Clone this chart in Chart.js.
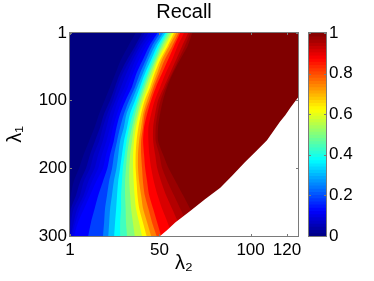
<!DOCTYPE html>
<html>
<head>
<meta charset="utf-8">
<title>Recall</title>
<script src="https://cdn.jsdelivr.net/npm/chart.js@4"></script>
<style>
    html, body { margin: 0; padding: 0; background: #fff; }
    canvas { position: absolute; left: 0; top: 0; }
</style>
</head>
<body>
<canvas id="mapChart" width="374" height="281"></canvas>
<canvas id="barChart" width="374" height="281"></canvas>
<script>
const fontName = "'Liberation Sans', Arial, sans-serif";

const xTicks = [1, 50, 100, 120];
const yTicks = [1, 100, 200, 300];
const barTicks = [0, 0.2, 0.4, 0.6, 0.8, 1];

const rows = [1, 20, 40, 60, 80, 100, 120, 140, 160, 180, 200, 220, 240, 260, 280, 300];

// lambda2 position of each recall level, one value per row
const lvl000 = [1, 1, 1, 1, 1, 1, 1, 1, 1, 1, 1, 1, 1, 1, 1, 1];
const lvl020 = [37, 33, 29, 26, 23, 20, 17, 14.5, 11.5, 8.5, 6, 3, 1.5, 1, 1, 1];
const lvl050 = [40.5, 36.7, 32.3, 28.5, 25.7, 23, 19.7, 17.5, 14.7, 12, 9.8, 6.5, 4.3, 1.5, 1, 1];
const lvl070 = [42, 38, 34, 30, 27, 24.5, 21.5, 19, 17, 14, 12, 8.5, 6.5, 3, 1.5, 1];
const lvl090 = [44, 39.5, 35.5, 32, 29, 26, 23, 21, 19, 16.5, 14.5, 11, 8.5, 5, 3, 1.5];
const lvl105 = [46, 41, 37, 34, 31, 27.5, 25, 23, 21, 18.5, 16.5, 13, 10, 6.5, 4, 2];
const lvl125 = [47.7, 42.7, 38.9, 35.6, 32.8, 29.5, 26.8, 24.6, 23, 20.8, 19.1, 15.3, 12, 8.7, 5.4, 3.2];
const lvl188 = [49, 44.5, 41, 37.5, 35, 31.5, 28.5, 26.5, 25, 23, 21.5, 19, 16.5, 14.5, 12.5, 11];
const lvl250 = [50.4, 46, 42.7, 39.4, 36.7, 33.4, 30.6, 28.5, 26.8, 25.2, 24.1, 22.4, 21.3, 20.2, 19.7, 19.1];
const lvl313 = [52, 47.5, 44, 41, 38, 35, 32, 30.5, 28.5, 27.5, 26.5, 25, 24, 23, 22.5, 22];
const lvl375 = [53.2, 48.8, 45.5, 42.2, 39.4, 36.7, 33.9, 32.3, 30.6, 29.5, 28.5, 27.4, 26.8, 26.3, 25.7, 25.2];
const lvl438 = [54, 50, 46.5, 43.5, 40.5, 38, 35.5, 33.5, 32, 31, 30, 29.5, 29, 29, 28.5, 28.5];
const lvl500 = [54.8, 51, 47.7, 44.4, 41.6, 38.9, 36.7, 35, 33.4, 32.3, 31.7, 31.2, 31.2, 31.5, 31.7, 32.3];
const lvl563 = [56, 52, 48.5, 45.5, 42.5, 40, 38, 36, 35, 34, 33.5, 33.5, 34, 34.5, 35.5, 36.5];
const lvl625 = [57, 53.2, 49.3, 46.6, 43.8, 41.1, 38.9, 37.2, 36.1, 35.6, 35.6, 35.9, 36.4, 37.2, 38.9, 40.5];
const lvl688 = [58, 54.5, 50.5, 47.5, 45, 42, 40, 38.5, 37.5, 37, 37, 37.5, 38, 39, 41, 43];
const lvl750 = [59.2, 55.4, 51.5, 48.8, 46, 43.3, 41.1, 40, 38.9, 38.3, 38.3, 38.9, 40, 41.1, 43.3, 45.5];
const lvl813 = [60.5, 57, 53, 50, 47, 44.5, 42, 41, 40, 40, 40.5, 41, 42, 44, 46, 48.5];
const lvl875 = [61.4, 58.1, 54.8, 51.5, 48.2, 45.5, 43.3, 41.6, 41.1, 41.6, 42.2, 43.3, 44.4, 46.6, 48.8, 51];
const lvl912 = [63.5, 60, 57, 53.5, 50.5, 47.5, 45.5, 44, 44, 44.5, 45.5, 47, 49, 51.5, 54.5, 57];
const lvl950 = [65.8, 62.5, 59.2, 55.9, 52.6, 49.3, 47.7, 46.6, 46.6, 47.7, 48.8, 51, 53.7, 57, 60.3, 63.6];
const lvl975 = [67, 64, 60.5, 57, 53.5, 50.7, 49, 48, 48, 50, 51.5, 54.5, 58, 61.5, 65, 69];
const lvl100 = [68, 65.5, 61.4, 57.5, 54.3, 52, 50.4, 49.3, 49.3, 52, 55, 59, 63, 66.9, 70.7, 75];

// edge of the white (undefined) corner
const edgeRows = [1, 96, 111, 122, 132, 159, 175, 191, 211, 229, 246, 263, 280, 291, 300];
const edgeX = [126, 126, 121.8, 119, 116, 109, 103, 97, 90, 83.4, 75, 66.9, 58.7, 54.3, 50.4];

const levels = [0, 0.02, 0.05, 0.07, 0.09, 0.105, 0.125, 0.1875, 0.25, 0.3125, 0.375, 0.4375, 0.5, 0.5625, 0.625, 0.6875, 0.75, 0.8125, 0.875, 0.9125, 0.95, 0.975, 1];
const contours = [lvl000, lvl020, lvl050, lvl070, lvl090, lvl105, lvl125, lvl188, lvl250, lvl313, lvl375, lvl438, lvl500, lvl563, lvl625, lvl688, lvl750, lvl813, lvl875, lvl912, lvl950, lvl975, lvl100];

const xMax = 126;

function jet(v) {
    const clamp = (c) => Math.round(255 * Math.max(0, Math.min(1, c)));
    const r = clamp(Math.min(4 * v - 1.5, -4 * v + 4.5));
    const g = clamp(Math.min(4 * v - 0.5, -4 * v + 3.5));
    const b = clamp(Math.min(4 * v + 0.5, -4 * v + 2.5));
    return `rgb(${r},${g},${b})`;
}

// box and inward tick marks, matlab style
const frame = {
    id: "frame",
    afterDatasetsDraw(chart) {
        const { ctx, chartArea: a, scales } = chart;
        ctx.save();
        ctx.strokeStyle = "#7a7a7a";
        ctx.lineWidth = 1;
        ctx.strokeRect(a.left - 0.5, a.top - 0.5, a.right - a.left + 1, a.bottom - a.top + 1);
        ctx.beginPath();
        scales.y.ticks.forEach((t) => {
            const p = Math.round(scales.y.getPixelForValue(t.value)) + 0.5;
            ctx.moveTo(a.left, p);
            ctx.lineTo(a.left + 2, p);
            ctx.moveTo(a.right, p);
            ctx.lineTo(a.right - 2, p);
        });
        if (scales.x.options.display) {
            scales.x.ticks.forEach((t) => {
                const p = Math.round(scales.x.getPixelForValue(t.value)) + 0.5;
                ctx.moveTo(p, a.bottom);
                ctx.lineTo(p, a.bottom - 2);
                ctx.moveTo(p, a.top);
                ctx.lineTo(p, a.top + 2);
            });
        }
        ctx.stroke();
        ctx.restore();
    }
};

const mapSets = contours.map((c, i) => ({
    data: c.map((x, j) => ({ x: x, y: rows[j] })),
    backgroundColor: jet(levels[i]),
    fill: { target: { value: xMax } },
    borderWidth: 0,
    pointRadius: 0,
    tension: 0.25,
    order: 100 - i
}));

mapSets.push({
    data: edgeX.map((x, j) => ({ x: x, y: edgeRows[j] })),
    backgroundColor: "#ffffff",
    fill: { target: { value: xMax } },
    borderWidth: 0,
    pointRadius: 0,
    order: 0
});

new Chart(document.getElementById("mapChart").getContext("2d"), {
    type: "line",
    data: { datasets: mapSets },
    plugins: [frame],
    options: {
        indexAxis: "y",
        responsive: false,
        animation: false,
        events: [],
        layout: { padding: { right: 76 } },
        plugins: {
            legend: { display: false },
            tooltip: { enabled: false },
            title: {
                display: true,
                text: "Recall",
                fullSize: false,
                color: "#000",
                font: { family: fontName, size: 20, weight: "normal", lineHeight: 1.2 },
                padding: { top: 0, bottom: 9 }
            }
        },
        scales: {
            x: {
                type: "linear",
                min: 1,
                max: xMax,
                afterBuildTicks(scale) {
                    scale.ticks = xTicks.map((v) => ({ value: v }));
                },
                afterFit(scale) {
                    scale.height = 45;
                },
                grid: { display: false, drawTicks: false },
                border: { display: false },
                ticks: {
                    autoSkip: false,
                    maxRotation: 0,
                    padding: 4,
                    color: "#000",
                    font: { family: fontName, size: 17 },
                    callback: (v) => String(v)
                },
                title: {
                    display: true,
                    text: "λ₂",
                    color: "#000",
                    font: { family: fontName, size: 20 },
                    padding: { top: 0, bottom: 6 }
                }
            },
            y: {
                type: "linear",
                reverse: true,
                min: 1,
                max: 300,
                afterBuildTicks(scale) {
                    scale.ticks = yTicks.map((v) => ({ value: v }));
                },
                afterFit(scale) {
                    scale.width = 70;
                },
                grid: { display: false, drawTicks: false },
                border: { display: false },
                ticks: {
                    autoSkip: false,
                    padding: 3,
                    color: "#000",
                    font: { family: fontName, size: 17 },
                    callback: (v) => String(v)
                },
                title: {
                    display: true,
                    text: "λ₁",
                    color: "#000",
                    font: { family: fontName, size: 20 },
                    padding: { top: 3, bottom: 0 }
                }
            }
        }
    }
});

// colorbar, 64 steps like the matlab jet map
const barSets = [];
for (let i = 0; i < 64; i++) {
    barSets.push({
        data: [[i / 64, 1]],
        backgroundColor: jet((i + 0.5) / 64),
        borderWidth: 0,
        barPercentage: 1,
        categoryPercentage: 1,
        grouped: false,
        order: 64 - i
    });
}

new Chart(document.getElementById("barChart").getContext("2d"), {
    type: "bar",
    data: { labels: [""], datasets: barSets },
    plugins: [frame],
    options: {
        responsive: false,
        animation: false,
        events: [],
        layout: { padding: { left: 309, top: 33, bottom: 45 } },
        plugins: {
            legend: { display: false },
            tooltip: { enabled: false }
        },
        scales: {
            x: { display: false },
            y: {
                position: "right",
                min: 0,
                max: 1,
                afterBuildTicks(scale) {
                    scale.ticks = barTicks.map((v) => ({ value: v }));
                },
                afterFit(scale) {
                    scale.width = 48;
                },
                grid: { display: false, drawTicks: false },
                border: { display: false },
                ticks: {
                    autoSkip: false,
                    padding: 3,
                    color: "#000",
                    font: { family: fontName, size: 17 },
                    callback: (v) => String(v)
                }
            }
        }
    }
});
</script>
</body>
</html>
